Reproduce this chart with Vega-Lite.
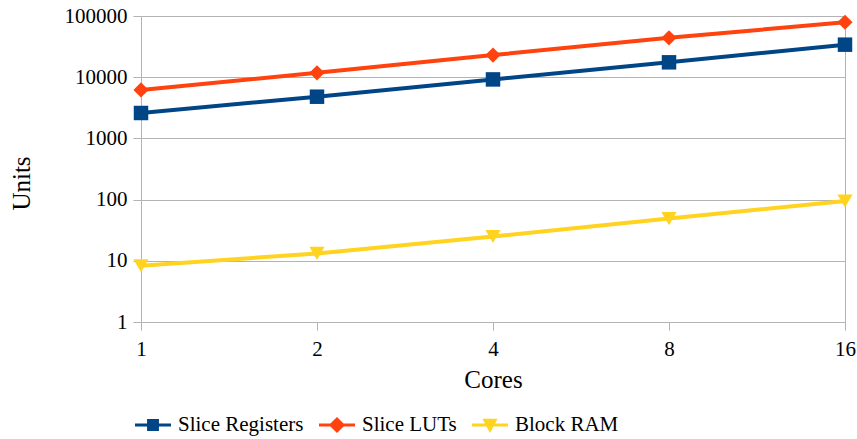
{
  "$schema": "https://vega.github.io/schema/vega-lite/v6.json",
  "autosize": {"type": "none"},
  "width": 704,
  "height": 306,
  "padding": {"left": 141, "top": 16, "right": 12, "bottom": 117},
  "background": "white",
  "config": {
    "font": "Liberation Serif",
    "view": {"stroke": "#b3b3b3", "strokeWidth": 1},
    "axis": {
      "labelFont": "Liberation Serif",
      "titleFont": "Liberation Serif",
      "labelFontSize": 21,
      "titleFontSize": 25,
      "titleFontWeight": "normal",
      "labelColor": "black",
      "titleColor": "black",
      "tickColor": "#b3b3b3",
      "gridColor": "#b3b3b3",
      "domainColor": "#b3b3b3",
      "tickSize": 8
    }
  },
  "data": {
    "values": [
      {"cores": "1", "series": "Slice Registers", "units": 2600},
      {"cores": "2", "series": "Slice Registers", "units": 4800},
      {"cores": "4", "series": "Slice Registers", "units": 9200},
      {"cores": "8", "series": "Slice Registers", "units": 17500},
      {"cores": "16", "series": "Slice Registers", "units": 34000},
      {"cores": "1", "series": "Slice LUTs", "units": 6200},
      {"cores": "2", "series": "Slice LUTs", "units": 11800},
      {"cores": "4", "series": "Slice LUTs", "units": 23000},
      {"cores": "8", "series": "Slice LUTs", "units": 44000},
      {"cores": "16", "series": "Slice LUTs", "units": 79000},
      {"cores": "1", "series": "Block RAM", "units": 8.3},
      {"cores": "2", "series": "Block RAM", "units": 13.2},
      {"cores": "4", "series": "Block RAM", "units": 25},
      {"cores": "8", "series": "Block RAM", "units": 49},
      {"cores": "16", "series": "Block RAM", "units": 95}
    ]
  },
  "encoding": {
    "x": {
      "field": "cores",
      "type": "ordinal",
      "sort": ["1", "2", "4", "8", "16"],
      "scale": {"type": "point", "padding": 0},
      "axis": {"title": "Cores", "labelAngle": 0, "grid": false, "domain": false, "labelPadding": 8, "titlePadding": 8, "labelFont": "Liberation Serif", "titleFont": "Liberation Serif"}
    },
    "y": {
      "field": "units",
      "type": "quantitative",
      "scale": {"type": "log", "domain": [1, 100000]},
      "axis": {"title": "Units", "values": [1, 10, 100, 1000, 10000, 100000], "format": "d", "grid": true, "domain": false, "labelPadding": 6, "titlePadding": 30, "titleY": 167, "labelFont": "Liberation Serif", "titleFont": "Liberation Serif"}
    },
    "color": {
      "field": "series",
      "type": "nominal",
      "scale": {"domain": ["Slice Registers", "Slice LUTs", "Block RAM"], "range": ["#004586", "#ff420e", "#ffd320"]},
      "legend": {
        "title": null,
        "orient": "none",
        "direction": "horizontal",
        "legendX": -6,
        "legendY": 391,
        "labelFont": "Liberation Serif",
        "labelFontSize": 21,
        "labelColor": "black",
        "labelOffset": 7,
        "columnPadding": 15,
        "symbolSize": 1296,
        "symbolStrokeWidth": 0,
        "symbolType": {"expr": "datum.value === 'Slice Registers' ? 'M-1,-0.08H1V0.08H-1Z M-0.33,-0.33H0.33V0.33H-0.33Z' : datum.value === 'Slice LUTs' ? 'M-1,-0.08H1V0.08H-1Z M0,-0.45L0.45,0L0,0.45L-0.45,0Z' : 'M-1,-0.08H1V0.08H-1Z M-0.42,-0.35L0.42,-0.35L0,0.45Z'"},
        "symbolFillColor": {"expr": "scale('color', datum.value)"}
      }
    }
  },
  "layer": [
    {"mark": {"type": "line", "strokeWidth": 4}},
    {
      "transform": [{"filter": "datum.series === 'Slice Registers'"}],
      "mark": {"type": "point", "filled": true, "opacity": 1, "size": 210, "shape": "square"}
    },
    {
      "transform": [{"filter": "datum.series === 'Slice LUTs'"}],
      "mark": {"type": "point", "filled": true, "opacity": 1, "size": 230, "shape": "diamond"}
    },
    {
      "transform": [{"filter": "datum.series === 'Block RAM'"}],
      "mark": {"type": "point", "filled": true, "opacity": 1, "size": 230, "shape": "triangle-down"}
    }
  ]
}
